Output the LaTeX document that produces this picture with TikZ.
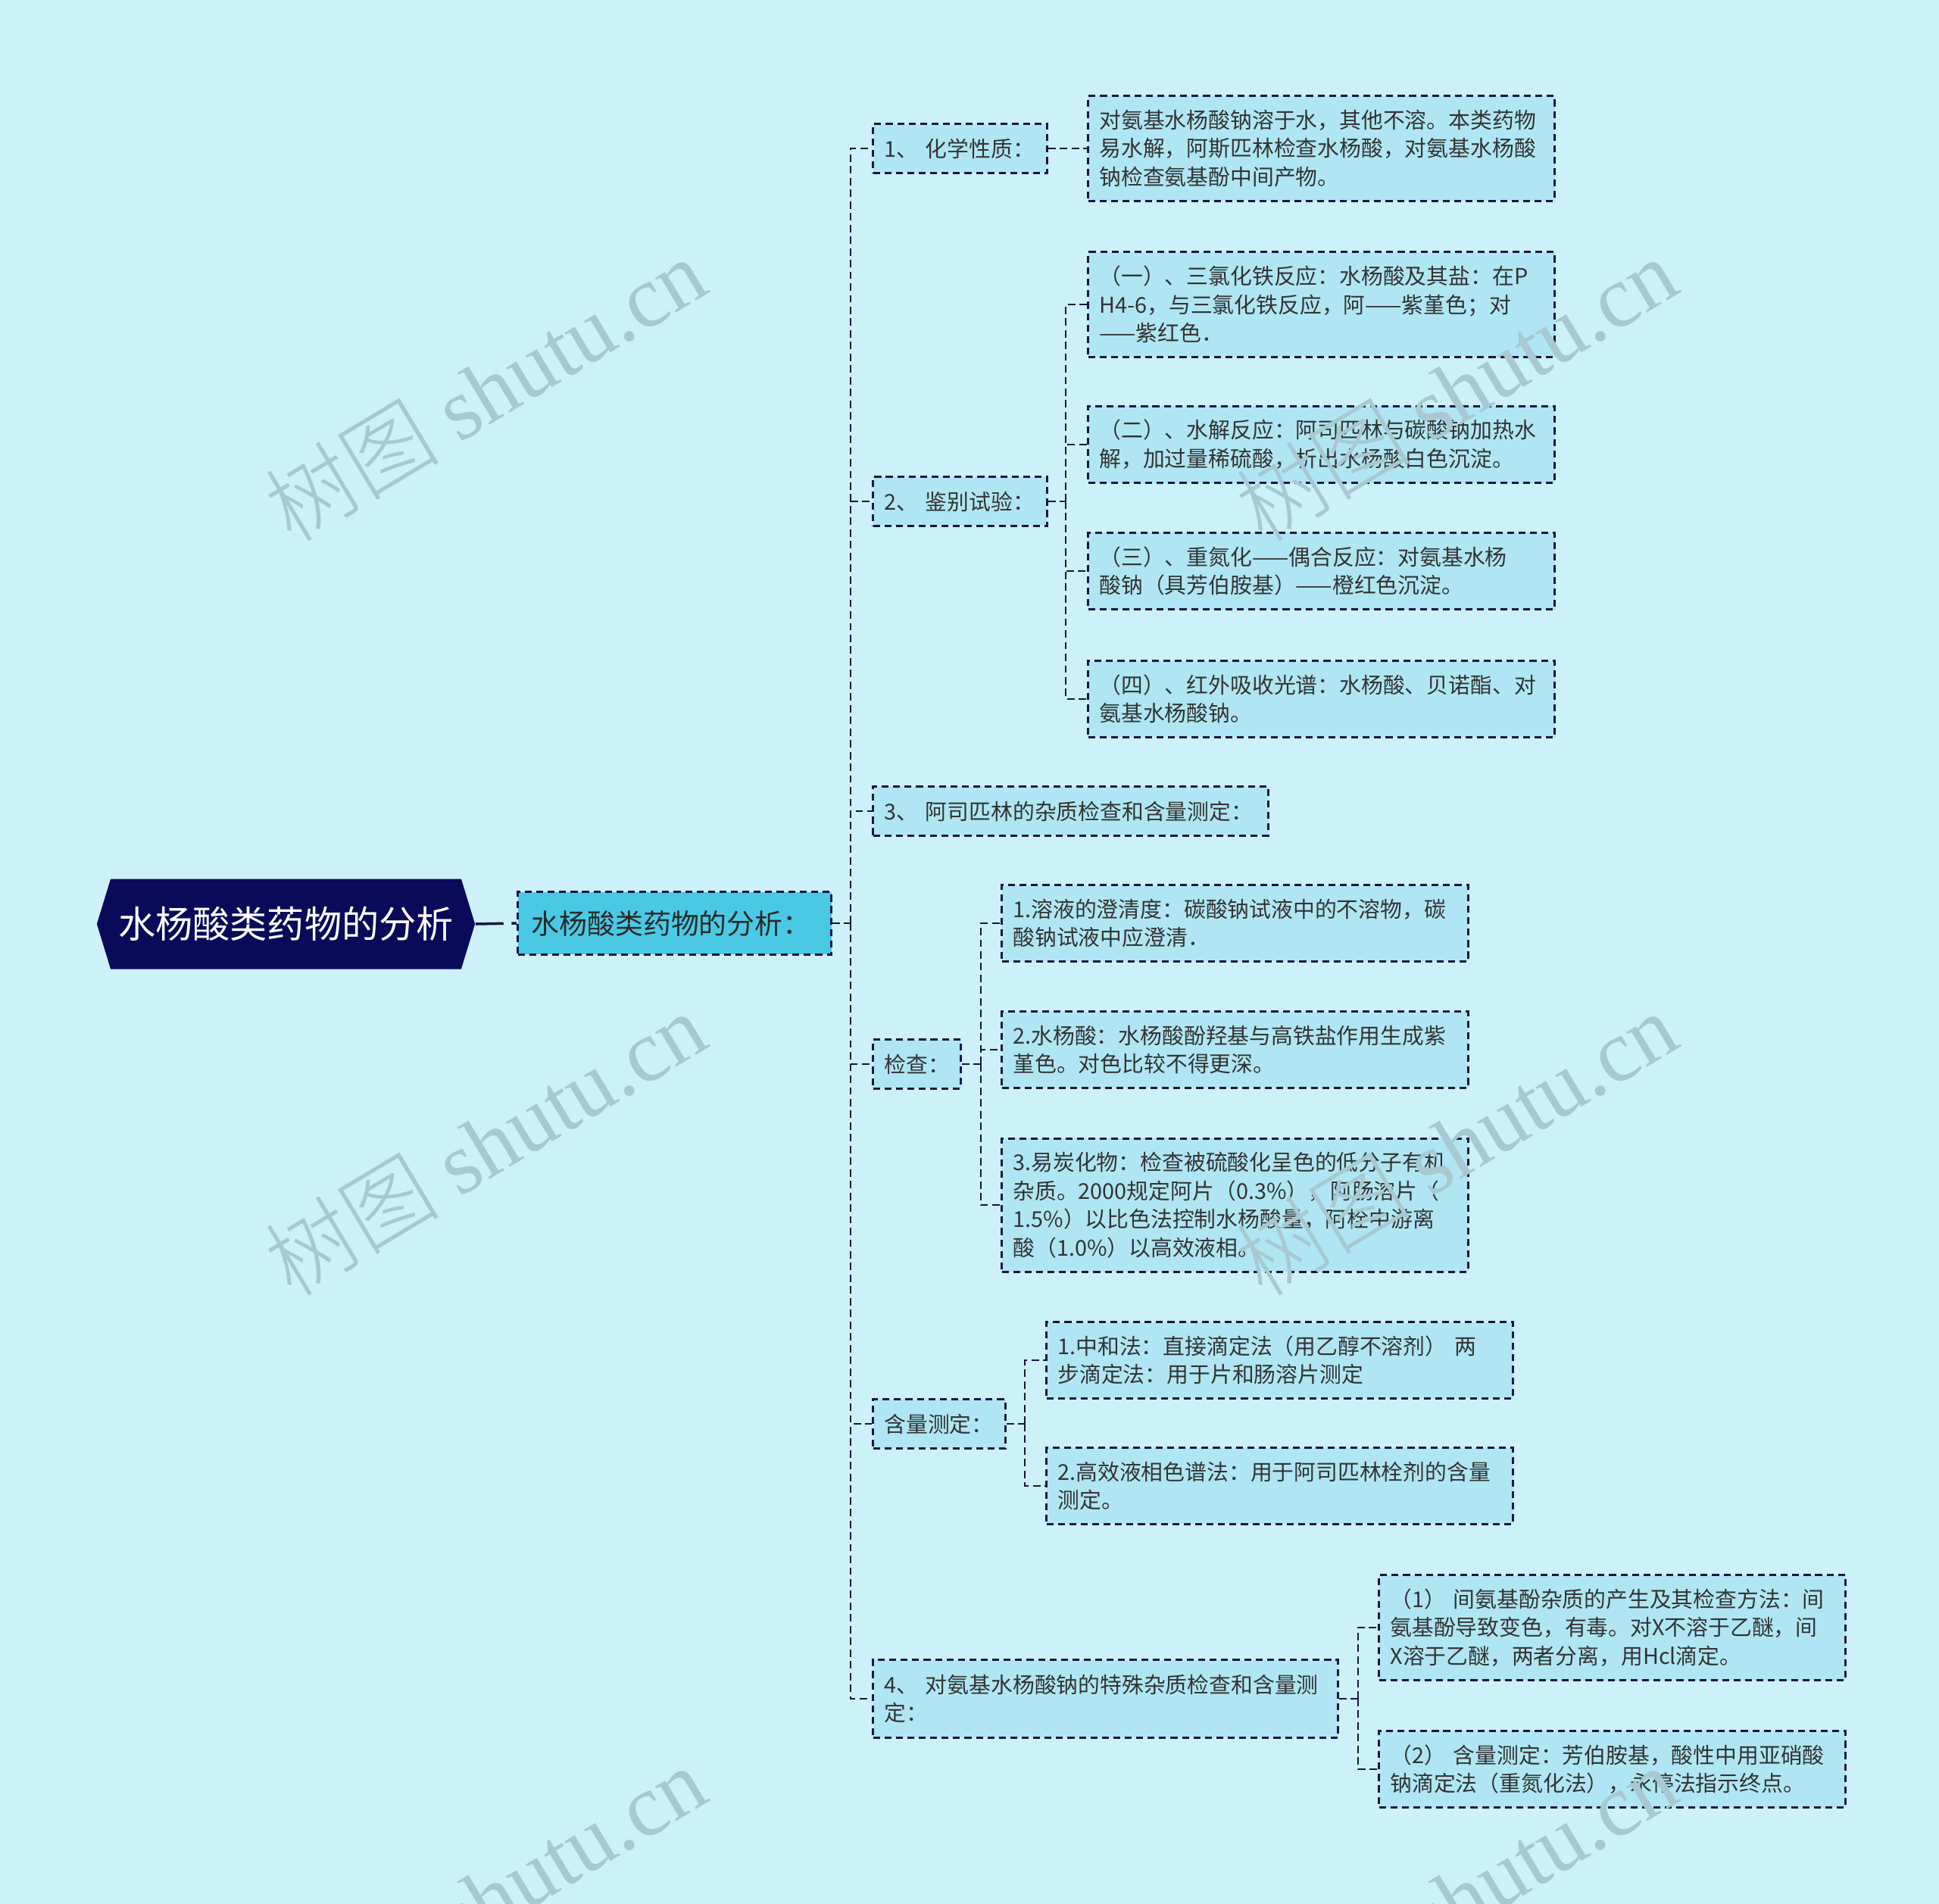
\documentclass[tikz,border=0pt]{standalone}
\usepackage{fontspec}
\setmainfont{Noto Sans CJK SC}
\newfontfamily\wmlatin{Liberation Serif}
\newfontfamily\wmcjk{Noto Sans CJK SC Light}
\usetikzlibrary{shapes.symbols}
\definecolor{bgcol}{HTML}{CCF1F8}
\definecolor{boxcol}{HTML}{B0E6F3}
\definecolor{maincol}{HTML}{4AC9E5}
\definecolor{rootcol}{HTML}{0A0A5A}
\definecolor{linecol}{HTML}{161642}
\definecolor{txtcol}{HTML}{333333}
\definecolor{wmcol}{HTML}{A8C9D1}
\begin{document}
\begin{tikzpicture}[
    rootnode/.style={signal, signal to=west and east, signal pointer angle=146, fill=rootcol, text=white, minimum height=1.19cm, inner xsep=0.1cm, font=\fontsize{14pt}{17pt}\selectfont},
    mainnode/.style={rectangle, draw=linecol, fill=maincol, line width=0.85pt, dash pattern=on 2.6pt off 1.7pt, text=txtcol!80!black, anchor=west, align=left, text width=3.78cm, inner xsep=0.18cm, inner ysep=0.24cm, font=\fontsize{10.5pt}{13pt}\selectfont},
    lvtwo/.style={rectangle, draw=linecol, fill=boxcol, line width=0.85pt, dash pattern=on 2.6pt off 1.7pt, text=txtcol, anchor=west, align=left, inner xsep=0.15cm, inner ysep=0.19cm, font=\fontsize{8.2pt}{10.7pt}\selectfont},
    lvthree/.style={lvtwo, text width=5.86cm, inner ysep=0.18cm},
    link/.style={draw=linecol, line width=0.8pt, dash pattern=on 2.8pt off 1.6pt},
    rootlink/.style={draw=linecol, line width=1pt, dash pattern=on 10.5pt off 3pt},
    watermark/.style={text=wmcol, rotate=31, font=\fontsize{33pt}{38pt}\selectfont}
]
\fill[bgcol] (0,0) rectangle (25.6,-25.14);
\useasboundingbox (0,0) rectangle (25.6,-25.14);

% root and summary
\node[rootnode] (root) at (3.775,-12.20) {水杨酸类药物的分析};
\node[mainnode] (summary) at (6.82,-12.19) {水杨酸类药物的分析：};

% second level
\node[lvtwo, text width=2.00cm] (chem) at (11.51,-1.96) {1、 化学性质：};
\node[lvtwo, text width=2.00cm] (ident) at (11.51,-6.62) {2、 鉴别试验：};
\node[lvtwo, text width=4.92cm] (impur) at (11.51,-10.71) {3、 阿司匹林的杂质检查和含量测定：};
\node[lvtwo, text width=0.86cm] (check) at (11.51,-14.05) {检查：};
\node[lvtwo, text width=1.45cm] (assay) at (11.51,-18.80) {含量测定：};
\node[lvtwo, text width=5.84cm] (pas) at (11.51,-22.43) {4、 对氨基水杨酸钠的特殊杂质检查和含量测\\定：};

% third level
\node[lvthree] (chemtxt) at (14.35,-1.96) {对氨基水杨酸钠溶于水，其他不溶。本类药物\\易水解，阿斯匹林检查水杨酸，对氨基水杨酸\\钠检查氨基酚中间产物。};
\node[lvthree] (fecl) at (14.35,-4.02) {（一）、三氯化铁反应：水杨酸及其盐：在P\\H4-6，与三氯化铁反应，阿——紫堇色；对\\——紫红色．};
\node[lvthree] (hydro) at (14.35,-5.87) {（二）、水解反应：阿司匹林与碳酸钠加热水\\解，加过量稀硫酸，析出水杨酸白色沉淀。};
\node[lvthree] (diazo) at (14.35,-7.54) {（三）、重氮化——偶合反应：对氨基水杨\\酸钠（具芳伯胺基）——橙红色沉淀。};
\node[lvthree] (ir) at (14.35,-9.23) {（四）、红外吸收光谱：水杨酸、贝诺酯、对\\氨基水杨酸钠。};

\node[lvthree] (clarity) at (13.21,-12.19) {1.溶液的澄清度：碳酸钠试液中的不溶物，碳\\酸钠试液中应澄清．};
\node[lvthree] (salic) at (13.21,-13.86) {2.水杨酸：水杨酸酚羟基与高铁盐作用生成紫\\堇色。对色比较不得更深。};
\node[lvthree] (carbon) at (13.21,-15.91) {3.易炭化物：检查被硫酸化呈色的低分子有机\\杂质。2000规定阿片（0.3\%），阿肠溶片（\\1.5\%）以比色法控制水杨酸量，阿栓中游离\\酸（1.0\%）以高效液相。};

\node[lvthree] (neutral) at (13.80,-17.96) {1.中和法：直接滴定法（用乙醇不溶剂） 两\\步滴定法：用于片和肠溶片测定};
\node[lvthree] (hplc) at (13.80,-19.62) {2.高效液相色谱法：用于阿司匹林栓剂的含量\\测定。};

\node[lvthree] (aminoph) at (18.19,-21.49) {（1） 间氨基酚杂质的产生及其检查方法：间\\氨基酚导致变色，有毒。对X不溶于乙醚，间\\X溶于乙醚，两者分离，用Hcl滴定。};
\node[lvthree] (nitrite) at (18.19,-23.36) {（2） 含量测定：芳伯胺基，酸性中用亚硝酸\\钠滴定法（重氮化法），永停法指示终点。};

% connectors
\draw[rootlink] (root.east) -- (summary.west);
\coordinate (tk) at (11.23,-12.19);
\draw[link] (summary.east) -- (tk);
\foreach \c in {chem,ident,impur,check,assay,pas}
    \draw[link] (tk) |- (\c.west);
\draw[link] (chem.east) -- (chemtxt.west);

\coordinate (kident) at (14.07,-6.62);
\draw[link] (ident.east) -- (kident);
\foreach \c in {fecl,hydro,diazo,ir}
    \draw[link] (kident) |- (\c.west);

\coordinate (kcheck) at (12.95,-14.05);
\draw[link] (check.east) -- (kcheck);
\foreach \c in {clarity,salic,carbon}
    \draw[link] (kcheck) |- (\c.west);

\coordinate (kassay) at (13.53,-18.80);
\draw[link] (assay.east) -- (kassay);
\foreach \c in {neutral,hplc}
    \draw[link] (kassay) |- (\c.west);

\coordinate (kpas) at (17.93,-22.43);
\draw[link] (pas.east) -- (kpas);
\foreach \c in {aminoph,nitrite}
    \draw[link] (kpas) |- (\c.west);

% watermarks
\node[watermark] (wm1) at (6.40,-5.14) {{\wmcjk 树图} {\wmlatin shutu.cn}};
\node[watermark] (wm2) at (6.40,-15.10) {{\wmcjk 树图} {\wmlatin shutu.cn}};
\node[watermark] (wm3) at (6.40,-25.06) {{\wmcjk 树图} {\wmlatin shutu.cn}};
\node[watermark] (wm4) at (19.22,-5.14) {{\wmcjk 树图} {\wmlatin shutu.cn}};
\node[watermark] (wm5) at (19.22,-15.10) {{\wmcjk 树图} {\wmlatin shutu.cn}};
\node[watermark] (wm6) at (19.22,-25.06) {{\wmcjk 树图} {\wmlatin shutu.cn}};
\end{tikzpicture}
\end{document}
